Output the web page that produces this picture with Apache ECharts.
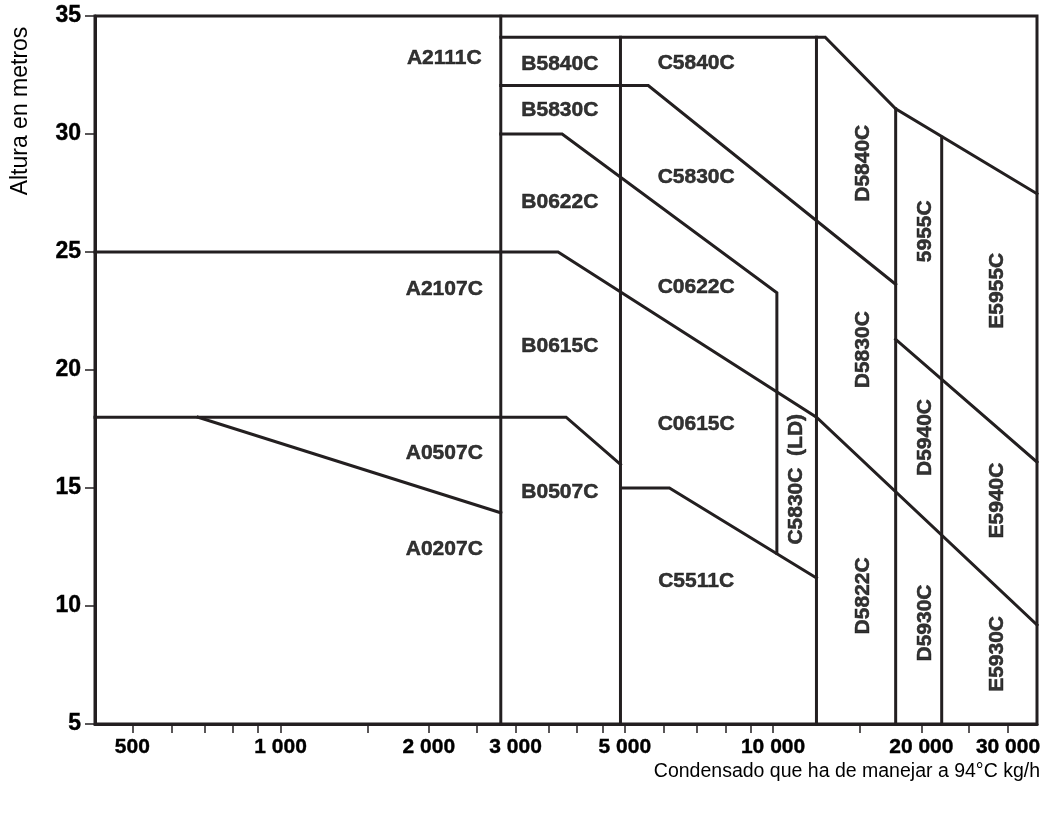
<!DOCTYPE html>
<html>
<head>
<meta charset="utf-8">
<script src="https://cdn.jsdelivr.net/npm/echarts@6/dist/echarts.min.js"></script>
<style>
html,body{margin:0;padding:0;background:#fff;}
#chart{width:1057px;height:814px;}
</style>
</head>
<body>
<div id="chart"></div>
<script>
// ---- axis ranges & ticks ----
const xMin = 420, xMax = 34350;
const yMin = 5, yMax = 35, yStep = 5;
const xTickLabels = [500, 1000, 2000, 3000, 5000, 10000, 20000, 30000];
const xTickMarks = [500, 600, 700, 800, 900, 1000, 1500, 2000, 2500, 3000, 3500, 4000, 4500, 5000, 6000, 7000, 8000, 9000, 10000, 15000, 20000, 25000, 30000];

// ---- boundary lines [kg/h, m] ----
const lineTop   = [[2800, 34.1], [12760, 34.1], [17740, 31.07], [34350, 27.47]];
const line32    = [[2800, 32.05], [5580, 32.05], [17740, 23.63]];
const line30    = [[2800, 30.0], [3730, 30.0], [10180, 23.27], [10180, 12.24]];
const line25    = [[420, 25], [3660, 25], [12250, 18.0], [34350, 9.2]];
const line18    = [[420, 18], [3800, 18], [4900, 16.0]];
const lineA0507 = [[680, 18], [2800, 13.95]];
const line15    = [[4900, 15], [6160, 15], [12250, 11.19]];
const line21    = [[17740, 21.3], [34350, 16.1]];
const vAB = [[2800, 35], [2800, 5]];
const vBC = [[4900, 34.1], [4900, 5]];
const vCD = [[12250, 34.1], [12250, 5]];
const vD  = [[17740, 31.07], [17740, 5]];
const vE  = [[22000, 29.86], [22000, 5]];

// ---- region labels ----
const labelNames = ['A2111C','A2107C','A0507C','A0207C','B5840C','C5840C','B5830C','C5830C','B0622C','C0622C','B0615C','C0615C','B0507C','C5511C',
                    'D5840C','5955C','E5955C','D5830C','D5940C','C5830C  (LD)','E5940C','D5822C','D5930C','E5930C'];
const labelX = [2150, 2150, 2150, 2150, 3690, 6980, 3690, 6980, 3690, 6980, 3690, 6980, 3690, 6980,
                15260, 20390, 28540, 15260, 20390, 11140, 28540, 15260, 20390, 28540];
const labelY = [33.2, 23.43, 16.47, 12.42, 32.95, 33.0, 31.02, 28.15, 27.09, 23.51, 21.02, 17.71, 14.84, 11.04,
                28.76, 25.88, 23.36, 20.86, 17.14, 15.37, 14.47, 10.43, 9.28, 7.97];
const labelVertical = [0,0,0,0,0,0,0,0,0,0,0,0,0,0, 1,1,1,1,1,1,1,1,1,1];

const INK = '#231f20';
const FONT = '"Liberation Sans", Arial, sans-serif';
const allLines = [lineTop, line32, line30, line25, line18, lineA0507, line15, line21, vAB, vBC, vCD, vD, vE];

function fmt(v) {
  return String(v).replace(/\B(?=(\d{3})+(?!\d))/g, ' ');
}

const chart = echarts.init(document.getElementById('chart'), null, {renderer: 'canvas'});

const series = allLines.map(function (pts) {
  return {
    type: 'line',
    data: pts,
    symbol: 'none',
    silent: true,
    animation: false,
    lineStyle: {color: INK, width: 3, cap: 'square', join: 'miter'},
    z: 3
  };
});

series.push({
  type: 'scatter',
  symbolSize: 1,
  itemStyle: {color: 'rgba(0,0,0,0)'},
  animation: false,
  silent: true,
  z: 5,
  data: labelNames.map(function (n, i) {
    return {
      value: [labelX[i], labelY[i]],
      name: n,
      label: {
        show: true,
        position: 'inside',
        formatter: n,
        rotate: labelVertical[i] ? 90 : 0,
        fontFamily: FONT,
        fontWeight: 'bold',
        fontSize: 21,
        color: '#000',
        textBorderColor: '#000',
        textBorderWidth: 0.5
      }
    };
  })
});

chart.setOption({
  animation: false,
  backgroundColor: '#fff',
  grid: {left: 95, right: 20, top: 16, bottom: 90, show: true, borderColor: INK, borderWidth: 3, backgroundColor: 'transparent'},
  xAxis: {
    type: 'log',
    logBase: 10,
    min: xMin,
    max: xMax,
    axisLine: {show: true, lineStyle: {color: INK, width: 3}},
    axisTick: {show: true, inside: false, length: 9, lineStyle: {color: INK, width: 1.5}, customValues: xTickMarks},
    minorTick: {show: false},
    splitLine: {show: false},
    axisLabel: {
      customValues: xTickLabels,
      formatter: function (v) { return fmt(Math.round(v)); },
      fontFamily: FONT,
      fontWeight: 'bold',
      fontSize: 21,
      color: '#000',
      textBorderColor: '#000',
      textBorderWidth: 0.4,
      margin: 13
    }
  },
  yAxis: {
    type: 'value',
    min: yMin,
    max: yMax,
    interval: yStep,
    axisLine: {show: true, lineStyle: {color: INK, width: 3}},
    axisTick: {show: true, inside: false, length: 10, lineStyle: {color: INK, width: 1.5}},
    splitLine: {show: false},
    axisLabel: {
      fontFamily: FONT,
      fontWeight: 'bold',
      fontSize: 23,
      color: '#000',
      textBorderColor: '#000',
      textBorderWidth: 0.4,
      margin: 14
    }
  },
  graphic: [
    {
      type: 'text',
      right: 17,
      top: 762,
      style: {text: 'Condensado que ha de manejar a 94°C kg/h', font: '19.5px ' + FONT, fill: '#000'}
    },
    {
      type: 'text',
      x: 21,
      y: 111,
      rotation: Math.PI / 2,
      style: {text: 'Altura en metros', font: '23px ' + FONT, fill: '#000', align: 'center', verticalAlign: 'middle'}
    }
  ],
  series: series
});
</script>
</body>
</html>
